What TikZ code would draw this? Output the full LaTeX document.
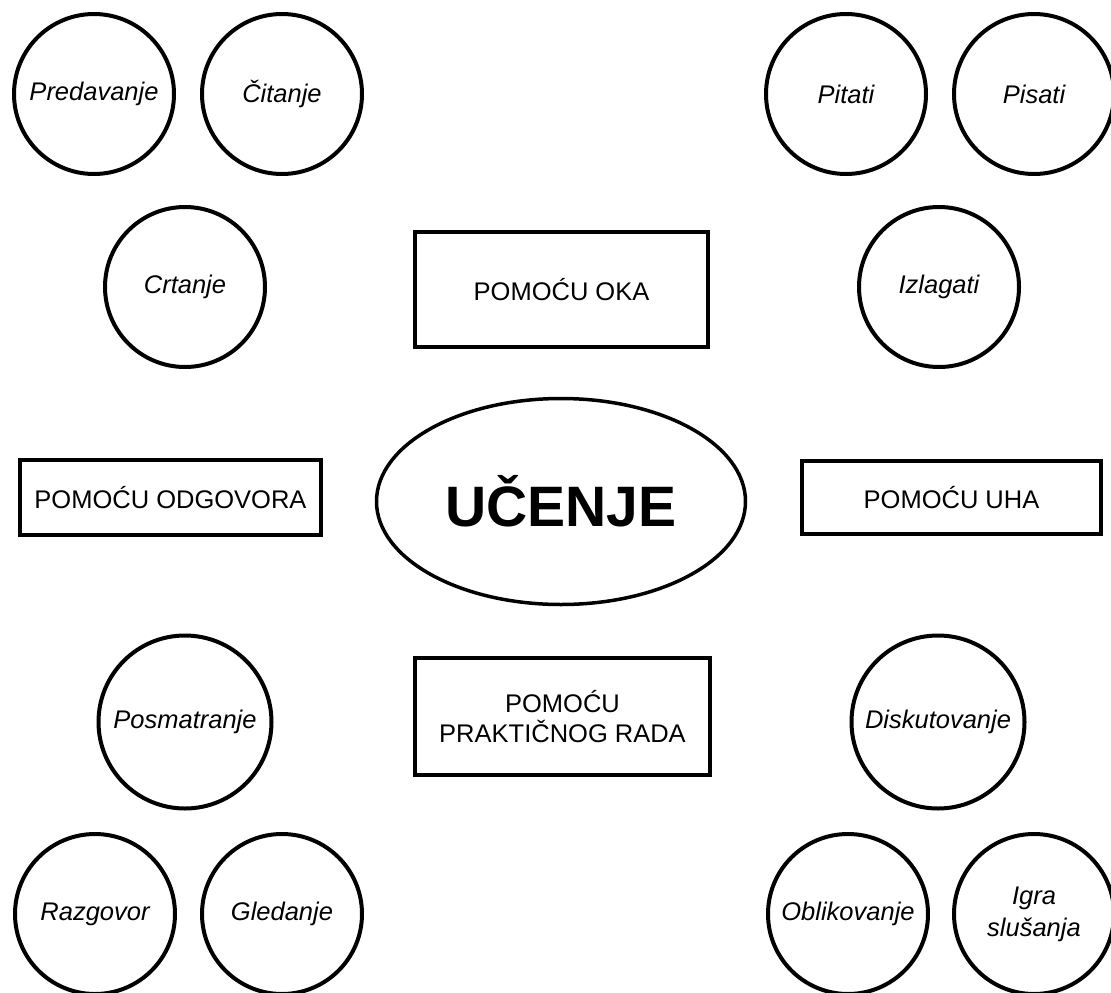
\documentclass[tikz,border=0pt]{standalone}
\usepackage{fontspec}
\setmainfont{Liberation Sans}
\usetikzlibrary{shapes.geometric}
\tikzset{
  bubble/.style={circle, draw=black, line width=4pt, inner sep=0pt,
    minimum size=160pt, font=\fontsize{25.5}{27}\selectfont\itshape, align=center},
  bigbubble/.style={bubble, minimum size=173pt},
  panel/.style={rectangle, draw=black, line width=4pt, inner sep=0pt,
    font=\fontsize{25.5}{30}\selectfont, align=center},
  core/.style={ellipse, draw=black, line width=3.5pt, inner sep=0pt,
    minimum width=369pt, minimum height=206pt,
    font=\fontsize{57}{60}\selectfont\bfseries}
}
\begin{document}
\begin{tikzpicture}[x=1pt,y=-1pt]
\useasboundingbox (0,0) rectangle (1111,993);
% top-left
\node[bubble] (pred) at (94,94) {Predavanje};
\node[bubble] (cit) at (282,94) {Čitanje};
\node[bubble] (crt) at (185,287) {Crtanje};
% top-right
\node[bubble] (pit) at (846,94) {Pitati};
\node[bubble] (pis) at (1034,94) {Pisati};
\node[bubble] (izl) at (939,287) {Izlagati};
% bottom-left
\node[bigbubble] (pos) at (185,722) {Posmatranje};
\node[bubble] (raz) at (95,914) {Razgovor};
\node[bubble] (gle) at (282,914) {Gledanje};
% bottom-right
\node[bigbubble] (dis) at (938,722) {Diskutovanje};
\node[bubble] (obl) at (848,914) {Oblikovanje};
\node[bubble, font=\fontsize{25.5}{32}\selectfont\itshape] (igr) at (1034,914) {Igra\\slušanja};
% boxes
\node[panel, minimum width=293pt, minimum height=115pt] (oka) at (561.5,289.5) {POMOĆU OKA};
\node[panel, minimum width=295pt, minimum height=117pt] (prak) at (562.5,716.5) {POMOĆU\\PRAKTIČNOG RADA};
\node[panel, minimum width=301pt, minimum height=75pt] (odg) at (170.5,497.5) {POMOĆU ODGOVORA};
\node[panel, minimum width=299pt, minimum height=73pt] (uha) at (951.5,497.5) {POMOĆU UHA};
% center
\node[core] (uc) at (561,501.5) {UČENJE};
\end{tikzpicture}
\end{document}
